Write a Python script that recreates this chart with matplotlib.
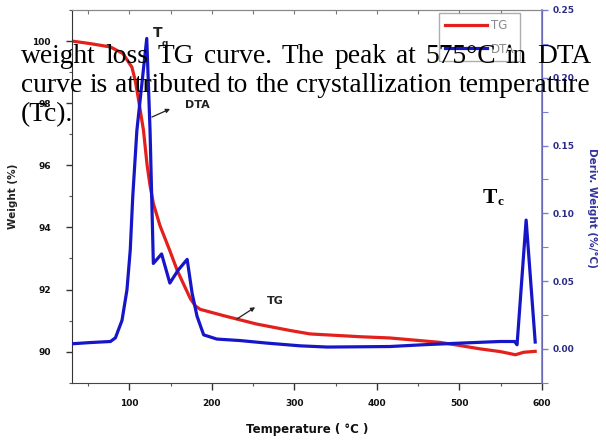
import matplotlib
matplotlib.use("Agg")
import matplotlib.pyplot as plt
from matplotlib.ticker import MultipleLocator, FormatStrFormatter

# ---------------- data ----------------
tg_temp = [30, 52, 77, 92, 103, 107, 110.5, 117, 121.5, 125, 129, 137, 149,
           158, 174, 180, 186, 214, 254, 295, 319, 380, 416, 476, 500, 525,
           550, 568, 578, 592]
tg_weight = [100.0, 99.92, 99.81, 99.60, 99.16, 98.73, 98.20, 97.13, 95.99,
             95.35, 94.77, 94.06, 93.25, 92.61, 91.70, 91.47, 91.36, 91.16,
             90.89, 90.68, 90.57, 90.48, 90.44, 90.30, 90.20, 90.09, 90.0,
             89.9, 89.98, 90.01]

dta_temp = [30, 52, 77, 83, 91, 97, 101, 104, 109, 121, 125, 127, 129, 139,
            149, 159, 170, 176, 182, 190, 206, 234, 267, 307, 340, 380, 416,
            456, 501, 549, 567, 570, 581, 592]
dta_value = [0.0037, 0.0046, 0.0054, 0.0081, 0.021, 0.0435, 0.073, 0.112, 0.161,
             0.229, 0.161, 0.112, 0.063, 0.070, 0.0485, 0.058, 0.066, 0.041,
             0.024, 0.0103, 0.0072, 0.0061, 0.0042, 0.0022, 0.0013, 0.0015,
             0.0017, 0.003, 0.0042, 0.0054, 0.0054, 0.003, 0.095, 0.005]

series_labels = ["TG", "DTA"]
paragraph_lines = ["weight loss TG curve. The peak at 575°C in DTA",
                   "curve is attributed to the crystallization temperature",
                   "(Tc)."]

W, H = 606, 440
fig = plt.figure(figsize=(W / 100, H / 100), dpi=100)

L, R, B, T = 71.7, 541.8, 382.7, 10.0
ax = fig.add_axes([L / W, 1 - B / H, (R - L) / W, (B - T) / H])
ax2 = ax.twinx()

red = '#e3201b'
blue = '#1616c8'
rspine = '#7b7bdc'

l1, = ax.plot(tg_temp, tg_weight, color=red, lw=2.3, label=series_labels[0],
              solid_joinstyle='round')
l2, = ax2.plot(dta_temp, dta_value, color=blue, lw=2.3, label=series_labels[1],
               solid_joinstyle='round')

ax.set_xlim(30, 600)
ax.set_ylim(89, 101)
ax2.set_ylim(-0.025, 0.25)

# ticks
ax.xaxis.set_major_locator(MultipleLocator(100))
ax.xaxis.set_minor_locator(MultipleLocator(50))
ax.yaxis.set_major_locator(MultipleLocator(2))
ax.yaxis.set_minor_locator(MultipleLocator(1))
ax2.yaxis.set_major_locator(MultipleLocator(0.05))
ax2.yaxis.set_minor_locator(MultipleLocator(0.025))
ax2.yaxis.set_major_formatter(FormatStrFormatter('%.2f'))

ax.tick_params(axis='x', which='major', direction='out', length=5, width=1,
               pad=7, labelsize=6.5, colors='#333333', top=False)
ax.tick_params(axis='x', which='minor', direction='out', length=2.5, width=0.8,
               top=False, colors='#555555')
ax.tick_params(axis='y', which='major', direction='out', length=4, width=1,
               pad=11, labelsize=6.5, colors='#333333')
ax.tick_params(axis='y', which='minor', direction='out', length=2.5, width=0.8,
               colors='#555555')
for lab in ax.get_xticklabels() + ax.get_yticklabels():
    lab.set_fontweight('bold')
    lab.set_color('#111111')

ax2.tick_params(axis='y', which='major', direction='out', length=4.5, width=1,
                pad=3, labelsize=6.5, colors=rspine, labelcolor='#2c2c86')
ax2.tick_params(axis='y', which='minor', direction='out', length=4.5, width=0.8,
                colors=rspine)
for lab in ax2.get_yticklabels():
    lab.set_fontweight('bold')

# top inward ticks
sec = ax.secondary_xaxis('top')
sec.xaxis.set_major_locator(MultipleLocator(100))
sec.xaxis.set_minor_locator(MultipleLocator(50))
sec.tick_params(axis='x', which='both', direction='in', length=3, width=0.8,
                colors='#777777', labeltop=False)
sec.spines['top'].set_color('#888888')

ax.spines['left'].set_color('#333333')
ax.spines['bottom'].set_color('#444444')
ax.spines['top'].set_color('#888888')
ax2.spines['right'].set_color(rspine)
ax2.spines['right'].set_linewidth(1.2)
ax2.spines['left'].set_visible(False)
ax2.spines['top'].set_visible(False)
ax2.spines['bottom'].set_visible(False)

# axis labels
ax.set_ylabel('Weight (%)', fontsize=7.5, fontweight='bold', color='#222222')
ax.yaxis.set_label_coords(-0.114, 0.5)
ax.set_xlabel('Temperature ( °C )', fontsize=8.5, fontweight='bold', color='#111111')
ax.xaxis.set_label_coords(0.5, -0.108)
ax2.set_ylabel('Deriv. Weight (%/°C)', fontsize=7.5, fontweight='bold',
               color='#3434a0', rotation=270, va='center', ha='center')
ax2.yaxis.set_label_coords(1.106, 0.47)

# legend
leg = ax2.legend(handles=[l1, l2], loc='upper right',
                 bbox_to_anchor=(0.954, 0.992), borderaxespad=0,
                 fontsize=8.5, handlelength=3.6, handletextpad=0.3,
                 frameon=True, fancybox=False, borderpad=0.5,
                 labelspacing=0.9)
leg.get_frame().set_edgecolor('#999999')
leg.get_frame().set_linewidth(1.0)
for t in leg.get_texts():
    t.set_color('#8a8a8a')
leg.set_zorder(10)

# annotations
ann = dict(fontweight='bold', color='#222222')
ax2.text(134.8, 0.233, 'T', fontsize=10, ha='center', va='center', **ann)
ax2.text(143.3, 0.225, 'g', fontsize=6.5, ha='center', va='center', **ann)
ax2.text(182, 0.18, 'DTA', fontsize=8, ha='center', va='center', **ann)
ax2.annotate('', xy=(149.3, 0.177), xytext=(127.2, 0.171),
             arrowprops=dict(arrowstyle='-|>', color='#222222', lw=0.9,
                             mutation_scale=6, shrinkA=0, shrinkB=0))
ax.text(276.6, 91.64, 'TG', fontsize=8, ha='center', va='center', **ann)
ax.annotate('', xy=(252.4, 91.43), xytext=(230.2, 91.05),
            arrowprops=dict(arrowstyle='-|>', color='#222222', lw=0.9,
                            mutation_scale=6, shrinkA=0, shrinkB=0))

# Tc label
fig.text(490 / W, 1 - 203 / H, 'T', fontsize=15.5, fontweight='bold',
         family='Liberation Serif', color='black', ha='center', va='baseline',
         zorder=20)
fig.text(497 / W, 1 - 205 / H, 'c', fontsize=9.5, fontweight='bold',
         family='Liberation Serif', color='black', ha='left', va='baseline',
         zorder=20)

# overlaid paragraph text (justified)
FS = 19.8
fig.canvas.draw()
rend = fig.canvas.get_renderer()


def place_line(line, y_px, x0, x1, justify=True):
    words = line.split()
    texts = [fig.text(0, 0, w, fontsize=FS, family='Liberation Serif',
                      color='black', va='baseline', ha='left', zorder=30)
             for w in words]
    widths = [t.get_window_extent(rend).width for t in texts]
    if justify and len(words) > 1:
        gap = (x1 - x0 - sum(widths)) / (len(words) - 1)
    else:
        gap = FS * 100 / 72 * 0.25
    x = x0
    for t, w in zip(texts, widths):
        t.set_position((x / W, 1 - y_px / H))
        x += w + gap


place_line(paragraph_lines[0], 63, 21, 591)
place_line(paragraph_lines[1], 92, 21, 591)
place_line(paragraph_lines[2], 121, 21, 591, justify=False)

fig.savefig('out.png', dpi=100)
